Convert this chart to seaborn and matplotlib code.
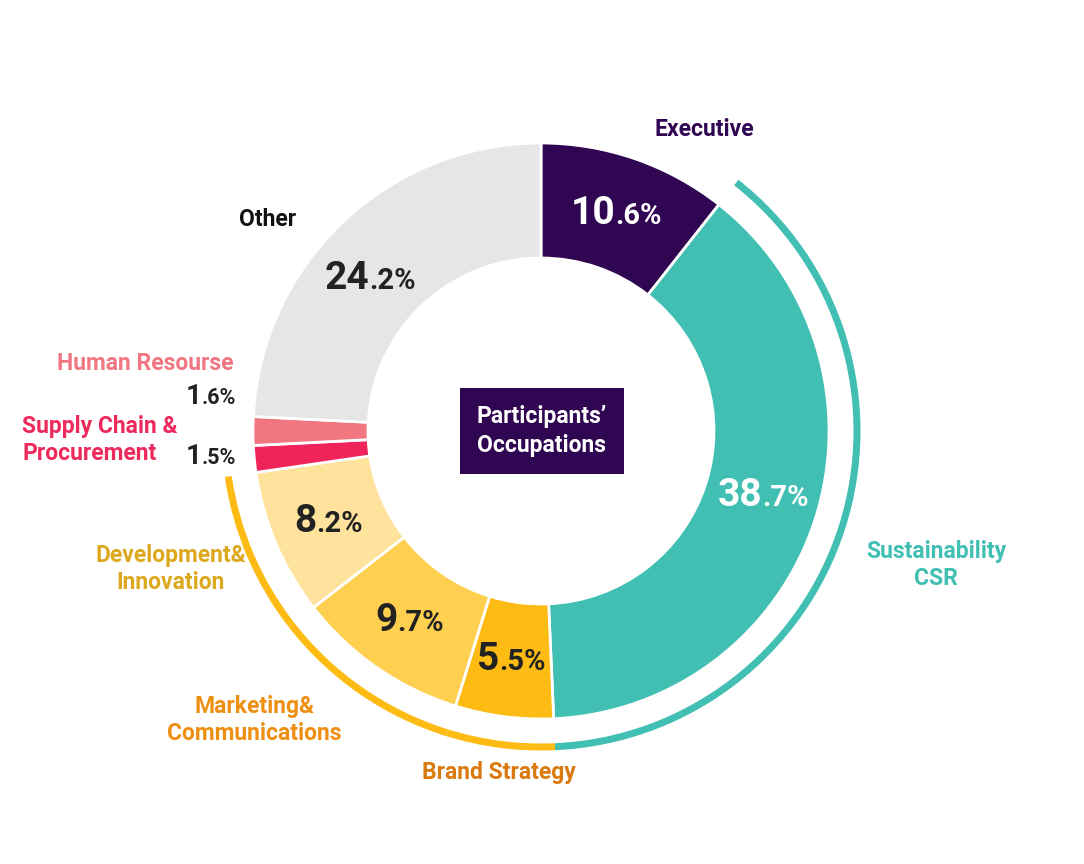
import numpy as np
import matplotlib
matplotlib.use("Agg")
import matplotlib.pyplot as plt
import seaborn as sns
from matplotlib.offsetbox import TextArea, HPacker, AnnotationBbox

# ==========================================================
# Data
# ==========================================================

categories = ["Executive", "Sustainability\nCSR", "Brand Strategy",
              "Marketing&\nCommunications", "Development&\nInnovation",
              "Supply Chain &\nProcurement", "Human Resourse", "Other"]
shares = [10.6, 38.7, 5.5, 9.7, 8.2, 1.5, 1.6, 24.2]

wedge_colors = ["#300551", "#41BFB3", "#FDBB14", "#FFD04F", "#FFE39C",
                "#F0245A", "#F27680", "#E6E6E6"]
label_colors = ["#300551", "#41BFB3", "#D9790E", "#EE8F12", "#DDA81E",
                "#EE2A5C", "#F07782", "#111111"]
value_colors = ["white", "white", "#222222", "#222222", "#222222",
                "#222222", "#222222", "#222222"]

# outer group arcs: which wedge belongs to which highlight group
group_of = ["", "teal", "gold", "gold", "gold", "", "", ""]
group_colors = {"": "none", "teal": "#41BFB3", "gold": "#FDBB14"}

# ==========================================================
# Layout (pixels, top-left origin)
# ==========================================================

W, H = 1084, 864
cx, cy = 541, 431
r_out, r_in = 288, 173
r_arc, arc_w = 316, 7

label_xy = [(704, 129), (936, 565), (499, 773), (254, 720), (171, 569),
            (22, 440), (145, 364), (268, 219)]
label_ha = ["center", "center", "center", "center", "center",
            "left", "center", "center"]
# small wedges get their value outside the ring
outside_value_xy = {5: (211, 457), 6: (211, 396)}
# small nudges of inside value labels (pixels)
value_nudge = {1: (3, -6), 7: (-12, 15)}

sns.set_theme(style="white")
plt.rcParams["font.family"] = ["Roboto", "DejaVu Sans"]

fig = plt.figure(figsize=(W / 100, H / 100), dpi=100)
ax = fig.add_axes([0, 0, 1, 1])
ax.set_xlim(0, W)
ax.set_ylim(0, H)
ax.set_aspect("equal")
ax.axis("off")


def Y(y):
    return H - y


# main donut
ax.pie(shares, colors=wedge_colors, startangle=90, counterclock=False,
       radius=r_out, center=(cx, Y(cy)),
       wedgeprops=dict(width=r_out - r_in, edgecolor="white", linewidth=2))

# highlight arcs around groups
ax.pie(shares, colors=[group_colors[g] for g in group_of], startangle=90,
       counterclock=False, radius=r_arc + arc_w / 2, center=(cx, Y(cy)),
       wedgeprops=dict(width=arc_w, linewidth=0))

ax.set_xlim(0, W)
ax.set_ylim(0, H)

# category labels
for name, (x, y), ha, col in zip(categories, label_xy, label_ha, label_colors):
    ax.text(x, Y(y), name, ha=ha, va="center", color=col, fontsize=16.5,
            fontweight="bold", linespacing=1.22)

# value labels: large integer part + small decimal part
cum = np.cumsum([0] + shares)
r_mid = (r_out + r_in) / 2
for i, v in enumerate(shares):
    mid = np.deg2rad(90 - (cum[i] + v / 2) * 3.6)
    if i in outside_value_xy:
        x, y = outside_value_xy[i]
        xy = (x, Y(y))
        big, small = 20, 15.5
    else:
        dx, dy = value_nudge.get(i, (0, 0))
        xy = (cx + r_mid * np.cos(mid) + dx, Y(cy) + r_mid * np.sin(mid) - dy)
        big, small = 28, 21
    ip, dp = f"{v:.1f}".split(".")
    t1 = TextArea(ip, textprops=dict(color=value_colors[i], fontsize=big,
                                     fontweight="bold"))
    t2 = TextArea("." + dp + "%", textprops=dict(color=value_colors[i],
                                                 fontsize=small,
                                                 fontweight="bold"))
    box = HPacker(children=[t1, t2], align="baseline", pad=0, sep=0)
    ab = AnnotationBbox(box, xy, frameon=False, box_alignment=(0.5, 0.5))
    ax.add_artist(ab)

# center title box
ax.text(cx + 1, Y(cy), "Participants\u2019\nOccupations", ha="center",
        va="center", color="white", fontsize=16.5, fontweight="bold",
        linespacing=1.3,
        bbox=dict(boxstyle="square,pad=0.75", facecolor="#300551",
                  edgecolor="none"))

fig.savefig("out.png", dpi=100, facecolor="white")
